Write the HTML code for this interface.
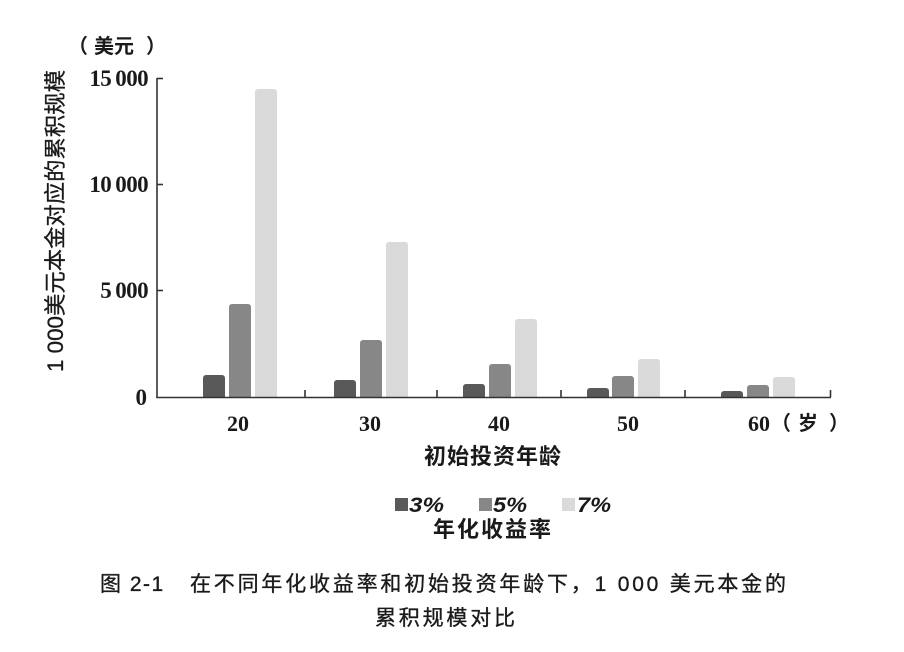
<!DOCTYPE html>
<html>
<head>
<meta charset="utf-8">
<style>
  html, body { margin: 0; padding: 0; background: #ffffff; }
  body { width: 904px; height: 652px; overflow: hidden; }
  svg { display: block; }
  .serif { font-family: "Liberation Serif", "Noto Serif CJK SC", serif; fill: #1a1a1a; }
  .cjk { font-family: "Liberation Sans", "Noto Sans CJK SC", sans-serif; fill: #1a1a1a; }
</style>
</head>
<body>
<svg width="904" height="652" viewBox="0 0 904 652" xmlns="http://www.w3.org/2000/svg">
  <rect x="0" y="0" width="904" height="652" fill="#ffffff"/>

  <!-- bars -->
  <g>
    <rect x="203" y="375" width="22" height="26" rx="3" fill="#595959"/>
    <rect x="229" y="304" width="22" height="97" rx="3" fill="#878787"/>
    <rect x="255" y="89" width="22" height="312" rx="3" fill="#dadada"/>
    <rect x="334" y="380" width="22" height="21" rx="3" fill="#595959"/>
    <rect x="360" y="340" width="22" height="61" rx="3" fill="#878787"/>
    <rect x="386" y="242" width="22" height="159" rx="3" fill="#dadada"/>
    <rect x="463" y="384" width="22" height="17" rx="3" fill="#595959"/>
    <rect x="489" y="364" width="22" height="37" rx="3" fill="#878787"/>
    <rect x="515" y="319" width="22" height="82" rx="3" fill="#dadada"/>
    <rect x="587" y="388" width="22" height="13" rx="3" fill="#595959"/>
    <rect x="612" y="376" width="22" height="25" rx="3" fill="#878787"/>
    <rect x="638" y="359" width="22" height="42" rx="3" fill="#dadada"/>
    <rect x="721" y="391" width="22" height="10" rx="3" fill="#595959"/>
    <rect x="747" y="385" width="22" height="16" rx="3" fill="#878787"/>
    <rect x="773" y="377" width="22" height="24" rx="3" fill="#dadada"/>
  </g>
  <rect x="150" y="398" width="700" height="6" fill="#ffffff"/>

  <!-- axes -->
  <g stroke="#333333" stroke-width="1.6" fill="none">
    <line x1="157" y1="78" x2="157" y2="398"/>
    <line x1="156.2" y1="397.5" x2="831" y2="397.5"/>
    <line x1="157" y1="78.5" x2="163" y2="78.5"/>
    <line x1="157" y1="184.5" x2="163" y2="184.5"/>
    <line x1="157" y1="290.5" x2="163" y2="290.5"/>
    <line x1="305" y1="390" x2="305" y2="397"/>
    <line x1="437" y1="390" x2="437" y2="397"/>
    <line x1="561" y1="390" x2="561" y2="397"/>
    <line x1="685" y1="390" x2="685" y2="397"/>
    <line x1="830.5" y1="390" x2="830.5" y2="397"/>
  </g>

  <!-- y tick labels -->
  <g class="serif" font-size="23" font-weight="bold" text-anchor="end">
    <text x="148" y="86" letter-spacing="-0.6" word-spacing="-1">15 000</text>
    <text x="148" y="192" letter-spacing="-0.6" word-spacing="-1">10 000</text>
    <text x="148" y="298" letter-spacing="-0.6" word-spacing="-1">5 000</text>
    <text x="147" y="405">0</text>
  </g>

  <!-- unit label -->
  <g class="cjk" font-size="20" font-weight="bold">
    <text x="68" y="53">（</text>
    <text x="94" y="53">美元</text>
    <text x="146" y="53">）</text>
  </g>

  <!-- y axis title -->
  <text class="cjk" font-size="22" text-anchor="middle" stroke="#1a1a1a" stroke-width="0.3" textLength="302" lengthAdjust="spacingAndGlyphs" transform="translate(63,221) rotate(-90)">1 000美元本金对应的累积规模</text>

  <!-- x tick labels -->
  <g class="serif" font-size="22" font-weight="bold" text-anchor="middle">
    <text x="238" y="431">20</text>
    <text x="370" y="431">30</text>
    <text x="499" y="431">40</text>
    <text x="628" y="431">50</text>
    <text x="759" y="431">60</text>
  </g>
  <g class="cjk" font-size="20" font-weight="bold">
    <text x="771" y="430">（</text>
    <text x="798" y="430">岁</text>
    <text x="829" y="430">）</text>
  </g>

  <!-- x axis title -->
  <text class="cjk" x="424" y="464" font-size="22" font-weight="bold" letter-spacing="1">初始投资年龄</text>

  <!-- legend -->
  <rect x="395" y="498" width="13" height="13" fill="#595959"/>
  <rect x="479" y="498" width="13" height="13" fill="#878787"/>
  <rect x="562" y="498" width="13" height="13" fill="#dadada"/>
  <g font-family="Liberation Sans, sans-serif" font-size="21" font-weight="bold" font-style="italic" fill="#1a1a1a">
    <text x="409" y="512" textLength="35" lengthAdjust="spacingAndGlyphs">3%</text>
    <text x="493" y="512" textLength="34" lengthAdjust="spacingAndGlyphs">5%</text>
    <text x="577" y="512" textLength="34" lengthAdjust="spacingAndGlyphs">7%</text>
  </g>
  <text class="cjk" x="433" y="537" font-size="22" font-weight="bold" letter-spacing="2">年化收益率</text>

  <!-- caption -->
  <g class="cjk" font-size="21" stroke="#1a1a1a" stroke-width="0.35">
    <text x="100" y="591" letter-spacing="1.5">图 2-1</text>
    <text x="190" y="591" letter-spacing="2.8">在不同年化收益率和初始投资年龄下，1 000 美元本金的</text>
    <text x="375" y="625" letter-spacing="2.8">累积规模对比</text>
  </g>
</svg>
</body>
</html>
